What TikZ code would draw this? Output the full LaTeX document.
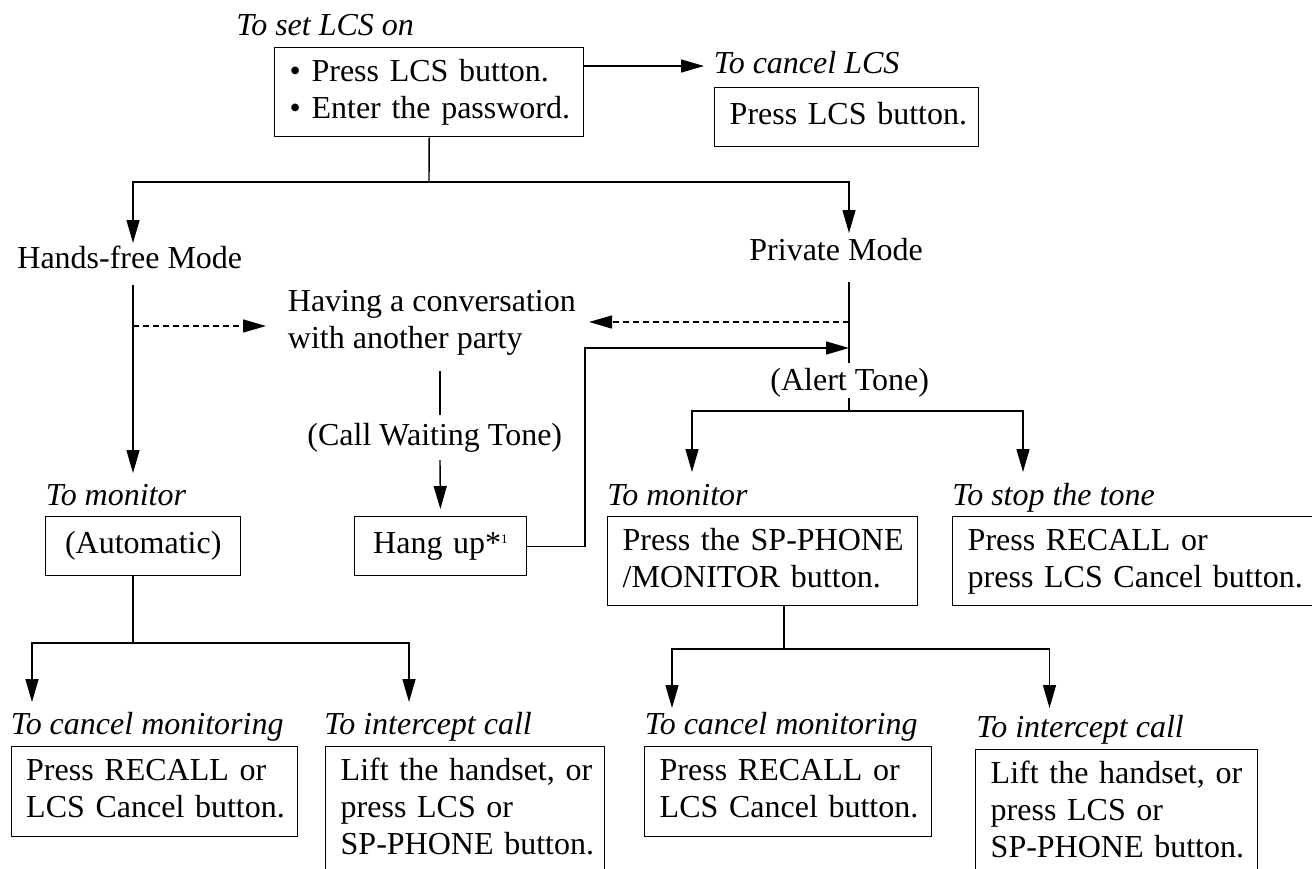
\documentclass[tikz,border=0pt]{standalone}
\usepackage{fontspec}
\setmainfont{Liberation Serif}
\usetikzlibrary{arrows.meta}
% one unbreakable line of box text, with a strut for even spacing
\newcommand\boxline[1]{\mbox{\strut#1}}
\begin{document}
\begin{tikzpicture}[x=0.5pt, y=-0.5pt,
  every node/.style={font=\fontsize{16pt}{18.5pt}\selectfont, inner sep=0pt},
  lbl/.style={anchor=base west},
  ttl/.style={anchor=base west, font=\fontsize{16pt}{18.5pt}\selectfont\itshape},
  box/.style={draw, line width=0.7pt, anchor=north west, align=left, inner xsep=7.5pt, inner ysep=0pt},
  cbox/.style={box, align=center},
  line/.style={line width=0.7pt},
  arr/.style={line, -{Triangle[length=11.5pt, width=6.5pt]}},
  dasharr/.style={arr, dash pattern=on 3pt off 2pt},
]
\fill[white] (0,0) rectangle (1312,868);
\useasboundingbox (0,0) rectangle (1312,868);

% ---- setting LCS on / cancelling it
\node[ttl] (tset) at (236,35) {To set LCS on};
\node[box, text width=139.5pt, minimum height=44.5pt] (set) at (274,47)
  {\boxline{• Press LCS button.}\\\boxline{• Enter the password.}};
\node[ttl] (tcan) at (713.5,73) {To cancel LCS};
\node[box, text width=117pt, minimum height=29.5pt] (can) at (714,87)
  {\boxline{Press LCS button.}};

% ---- the two modes
\node[lbl] (hf) at (17,268) {Hands-free Mode};
\node[lbl] (pm) at (749,260) {Private Mode};
\node[lbl, anchor=north west, align=left] (conv) at (287.5,285)
  {\boxline{Having a conversation}\\\boxline{with another party}};
\node[lbl] (cwt) at (307,445) {(Call Waiting Tone)};
\node[lbl] (alt) at (770,390) {(Alert Tone)};

% ---- middle row
\node[ttl] (tmon1) at (45.5,505) {To monitor};
\node[cbox, text width=82.5pt, minimum height=29.5pt] (auto) at (45,516) {\boxline{(Automatic)}};
\node[cbox, text width=71.25pt, minimum height=29.5pt] (hang) at (353.5,516)
  {\boxline{Hang up*\raisebox{5.2pt}{\fontsize{6.5pt}{6.5pt}\selectfont 1}}};
\node[ttl] (tmon2) at (607,505) {To monitor};
\node[box, text width=139.75pt, minimum height=44.5pt] (spm) at (607,516)
  {\boxline{Press the SP-PHONE}\\\boxline{/MONITOR button.}};
\node[ttl] (tstop) at (952,505) {To stop the tone};
\node[box, text width=201pt, minimum height=44.5pt] (stop) at (952,516)
  {\boxline{Press RECALL or}\\\boxline{press LCS Cancel button.}};

% ---- bottom row
\node[ttl] (tcm1) at (10.5,734) {To cancel monitoring};
\node[box, text width=128.25pt, minimum height=45pt] (cm1) at (10.5,746)
  {\boxline{Press RECALL or}\\\boxline{LCS Cancel button.}};
\node[ttl] (tic1) at (324,734) {To intercept call};
\node[box, text width=124.5pt, minimum height=63.5pt] (ic1) at (325,746)
  {\boxline{Lift the handset, or}\\\boxline{press LCS or}\\\boxline{SP-PHONE button.}};
\node[ttl] (tcm2) at (644.5,734) {To cancel monitoring};
\node[box, text width=128.25pt, minimum height=45pt] (cm2) at (644,746)
  {\boxline{Press RECALL or}\\\boxline{LCS Cancel button.}};
\node[ttl] (tic2) at (976,737) {To intercept call};
\node[box, text width=125.75pt, minimum height=63.5pt] (ic2) at (975,749)
  {\boxline{Lift the handset, or}\\\boxline{press LCS or}\\\boxline{SP-PHONE button.}};

% ---- junctions and arrow ends
\coordinate (canin) at (704,66);
\coordinate (j1) at (429,182);
\coordinate (hfin) at (133,243);
\coordinate (pmin) at (849,233);
\coordinate (hfout) at (133,285);
\coordinate (mon1in) at (133,473);
\coordinate (convl) at (266,326);
\coordinate (pmout) at (849,282);
\coordinate (alttop) at (849,363);
\coordinate (convr) at (589,322);
\coordinate (hbend) at (585,348);
\coordinate (hangin) at (849,348);
\coordinate (altbot) at (849,398);
\coordinate (j2) at (849,411);
\coordinate (spin) at (692,472);
\coordinate (stopin) at (1023,472);
\coordinate (cwtop) at (440,371);
\coordinate (cwmid) at (440,415);
\coordinate (cwbot) at (440,460);
\coordinate (j3) at (133,643);
\coordinate (cm1in) at (32,702);
\coordinate (ic1in) at (409,702);
\coordinate (j4) at (784,649);
\coordinate (cm2in) at (672,708);
\coordinate (ic2in) at (1049.5,708);

% ---- connectors
\draw[arr] (set.east |- canin) -- (canin);
\draw[line] (set.south) -- (j1);
\draw[arr] (j1) -| (hfin);
\draw[arr] (j1) -| (pmin);
\draw[arr] (hfout) -- (mon1in);
\draw[dasharr] (hfout |- convl) -- (convl);
\draw[line] (pmout) -- (alttop);
\draw[dasharr] (pmout |- convr) -- (convr);
\draw[arr] (hang.east) -| (hbend) -- (hangin);
\draw[line] (altbot) -- (j2);
\draw[arr] (j2) -| (spin);
\draw[arr] (j2) -| (stopin);
\draw[line] (cwtop) -- (cwmid);
\draw[arr, shorten >=3.5pt] (cwbot) -- (hang.north);
\draw[line] (auto.south -| j3) -- (j3);
\draw[arr] (j3) -| (cm1in);
\draw[arr] (j3) -| (ic1in);
\draw[line] (spm.south -| j4) -- (j4);
\draw[arr] (j4) -| (cm2in);
\draw[arr] (j4) -| (ic2in);
\end{tikzpicture}
\end{document}
